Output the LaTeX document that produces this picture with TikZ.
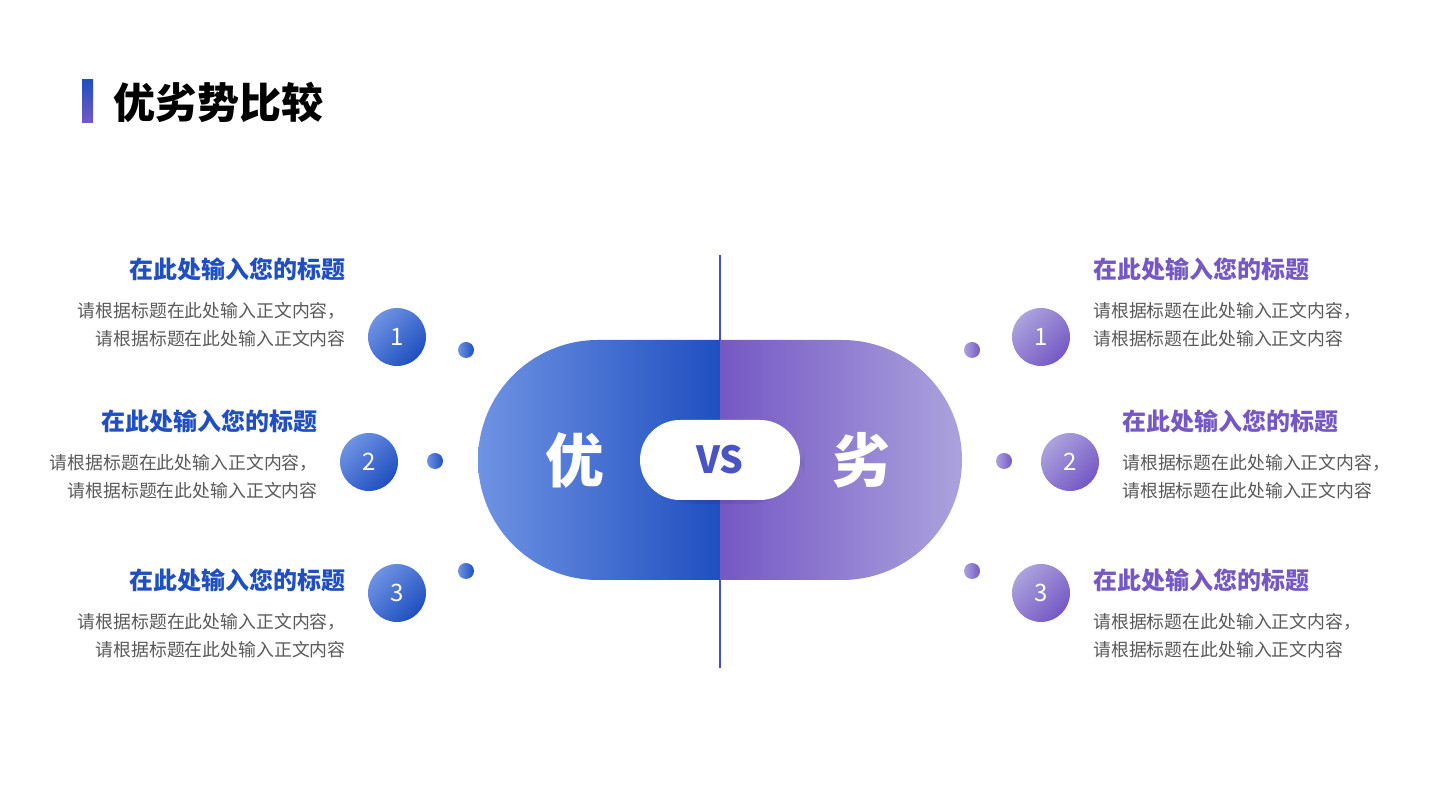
\documentclass[tikz,border=0pt]{standalone}
\usepackage{fontspec}
\newfontfamily\cjk{Noto Sans CJK SC}
\setsansfont{Noto Sans CJK SC}
\definecolor{bluedark}{HTML}{1F4FC0}
\definecolor{bluelight}{HTML}{6F93E3}
\definecolor{purpdark}{HTML}{7558C4}
\definecolor{purplight}{HTML}{ABA3DD}
\definecolor{bodygray}{HTML}{595959}
\tikzset{
  head/.style={font=\cjk\bfseries\fontsize{18}{20}\selectfont, inner sep=0pt},
  body/.style={font=\cjk\fontsize{13.4}{21}\selectfont, text=bodygray, inner sep=0pt},
  numleft/.style={circle, minimum size=43.5pt, inner sep=0pt, text=white,
    font=\sffamily\fontsize{18}{18}\selectfont, left color=bluelight, right color=bluedark, shading angle=45},
  numright/.style={circle, minimum size=43.5pt, inner sep=0pt, text=white,
    font=\sffamily\fontsize{18}{18}\selectfont, left color=purplight, right color=purpdark, shading angle=45},
  dotleft/.style={circle, minimum size=12pt, inner sep=0pt, left color=bluelight, right color=bluedark},
  dotright/.style={circle, minimum size=12pt, inner sep=0pt, left color=purplight, right color=purpdark}
}
\begin{document}
\begin{tikzpicture}[x=0.75pt, y=0.75pt]
  \useasboundingbox (0,0) rectangle (1440,810);
  % title
  \shade[top color=bluedark, bottom color=purpdark] (82,687) rectangle (93,730);
  \node[anchor=west, font=\cjk\bfseries\fontsize{31.5}{32}\selectfont, inner sep=0pt] (title) at (113,708) {优劣势比较};

  % middle line
  \coordinate (ltop) at (720,555);
  \coordinate (lbot) at (720,142);
  \draw[line width=1.2pt, bluedark!60!purpdark] (ltop) -- (lbot);

  % capsule
  \shade[left color=bluelight, right color=bluedark]
    (720,470) -- (598,470) arc[start angle=90, end angle=270, radius=120] -- (720,230) -- cycle;
  \shade[left color=purpdark, right color=purplight]
    (720,470) -- (842,470) arc[start angle=90, end angle=-90, radius=120] -- (720,230) -- cycle;
  \fill[black, opacity=0.08, rounded corners=42pt] (642,306) rectangle (804,388);
  \node[fill=white, rounded corners=30pt, minimum width=120pt, minimum height=60pt] (vs) at (720,350) {};
  \node[font=\sffamily\bfseries\fontsize{28}{28}\selectfont, text=bluedark!50!purpdark] at (vs) {VS};
  \node[font=\cjk\bfseries\fontsize{44}{44}\selectfont, text=white] (you) at (575,350) {优};
  \node[font=\cjk\bfseries\fontsize{44}{44}\selectfont, text=white] (lie) at (862,350) {劣};

  % left side
  \node[numleft] (l1) at (397,473) {1};
  \node[numleft] (l2) at (369,348) {2};
  \node[numleft] (l3) at (397,217) {3};
  \node[dotleft] (ld1) at (466,460) {};
  \node[dotleft] (ld2) at (435,349) {};
  \node[dotleft] (ld3) at (466,239) {};
  \node[head, text=bluedark, anchor=east] (lh1) at (346,541) {在此处输入您的标题};
  \node[body, anchor=north east, align=right] (lb1) at (346,508) {请根据标题在此处输入正文内容，\\请根据标题在此处输入正文内容};
  \node[head, text=bluedark, anchor=east] (lh2) at (318,389) {在此处输入您的标题};
  \node[body, anchor=north east, align=right] (lb2) at (318,356) {请根据标题在此处输入正文内容，\\请根据标题在此处输入正文内容};
  \node[head, text=bluedark, anchor=east] (lh3) at (346,230) {在此处输入您的标题};
  \node[body, anchor=north east, align=right] (lb3) at (346,197) {请根据标题在此处输入正文内容，\\请根据标题在此处输入正文内容};

  % right side
  \node[numright] (r1) at (1041,473) {1};
  \node[numright] (r2) at (1070,348) {2};
  \node[numright] (r3) at (1041,217) {3};
  \node[dotright] (rd1) at (972,460) {};
  \node[dotright] (rd2) at (1004,349) {};
  \node[dotright] (rd3) at (972,239) {};
  \node[head, text=purpdark, anchor=west] (rh1) at (1093,541) {在此处输入您的标题};
  \node[body, anchor=north west, align=left] (rb1) at (1093,508) {请根据标题在此处输入正文内容，\\请根据标题在此处输入正文内容};
  \node[head, text=purpdark, anchor=west] (rh2) at (1122,389) {在此处输入您的标题};
  \node[body, anchor=north west, align=left] (rb2) at (1122,356) {请根据标题在此处输入正文内容，\\请根据标题在此处输入正文内容};
  \node[head, text=purpdark, anchor=west] (rh3) at (1093,230) {在此处输入您的标题};
  \node[body, anchor=north west, align=left] (rb3) at (1093,197) {请根据标题在此处输入正文内容，\\请根据标题在此处输入正文内容};
\end{tikzpicture}
\end{document}
